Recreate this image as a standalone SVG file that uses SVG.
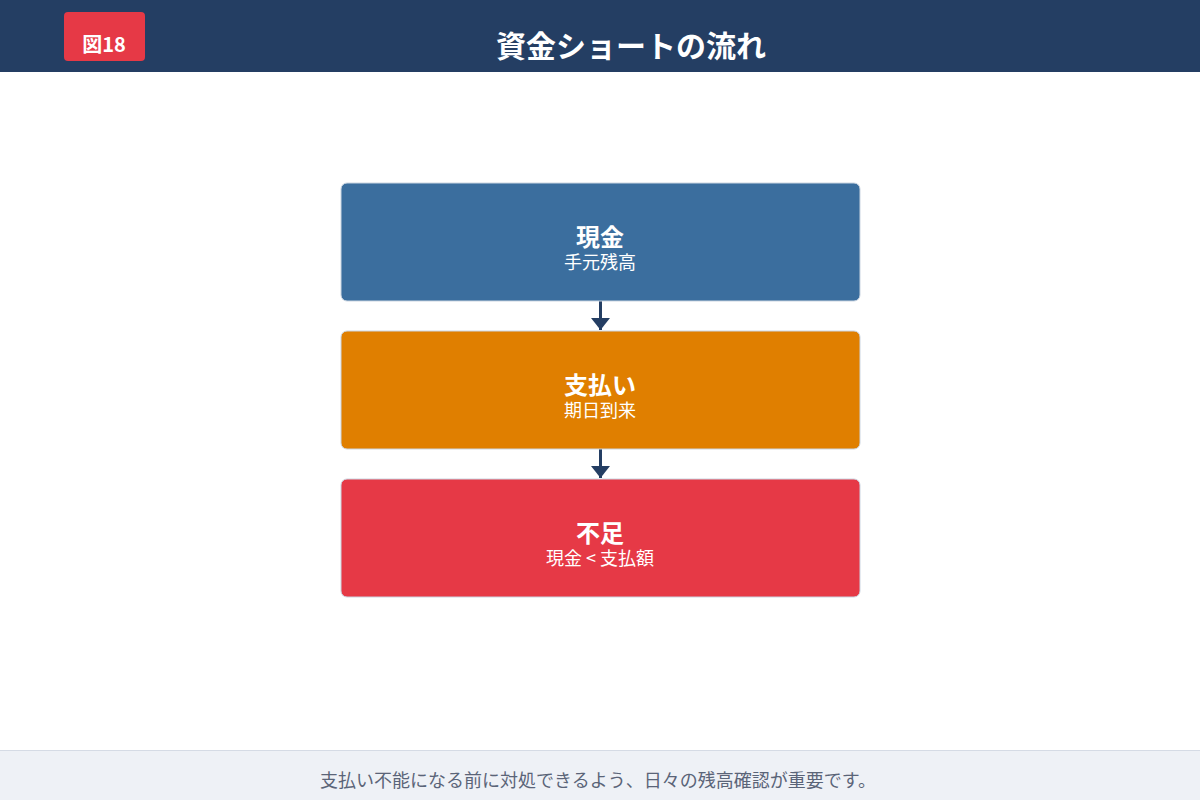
<svg xmlns="http://www.w3.org/2000/svg" width="1200" height="800" viewBox="0 0 1200 800">
<defs>
<style>
.t{font-family:"Noto Sans CJK JP","Noto Sans",sans-serif;fill:#fff;text-anchor:middle}
.nt{font-size:24px;font-weight:700}
.ns{font-size:18px}
.box{stroke:#cbd5e1;stroke-width:1}
.conn{stroke:#243e63;stroke-width:3;fill:none}
</style>
<marker id="ah" viewBox="0 0 12 19" refX="12" refY="9.5" markerWidth="12" markerHeight="19" markerUnits="userSpaceOnUse" orient="auto">
<path d="M0,0 L12,9.5 L0,19 z" fill="#243e63"/>
</marker>
</defs>
<rect x="0" y="0" width="1200" height="800" fill="#ffffff"/>
<g id="header">
<rect x="0" y="0" width="1200" height="72" fill="#243e63"/>
<rect x="64" y="12" width="81" height="49" rx="4" fill="#e63946"/>
<text x="104" y="52" class="t" style="font-size:20px;font-weight:700">図18</text>
<text x="631" y="57" class="t" style="font-size:30px;font-weight:700">資金ショートの流れ</text>
</g>
<g id="connectors">
<line x1="600.5" y1="301" x2="600.5" y2="330" class="conn" marker-end="url(#ah)"/>
<line x1="600.5" y1="449" x2="600.5" y2="478" class="conn" marker-end="url(#ah)"/>
</g>
<g id="node-cash">
<rect x="341" y="183" width="519" height="118" rx="6" fill="#3b6e9e" class="box"/>
<text x="600" y="246" class="t nt">現金</text>
<text x="600" y="269" class="t ns">手元残高</text>
</g>
<g id="node-payment">
<rect x="341" y="331" width="519" height="118" rx="6" fill="#e07f00" class="box"/>
<text x="600" y="394" class="t nt">支払い</text>
<text x="600" y="417" class="t ns">期日到来</text>
</g>
<g id="node-shortage">
<rect x="341" y="479" width="519" height="118" rx="6" fill="#e63946" class="box"/>
<text x="600" y="542" class="t nt">不足</text>
<text x="600" y="565" class="t ns">現金 &lt; 支払額</text>
</g>
<g id="footer">
<rect x="0" y="750" width="1200" height="50" fill="#eef1f6"/>
<line x1="0" y1="750.5" x2="1200" y2="750.5" stroke="#d5dbe5" stroke-width="1"/>
<text x="598" y="787" class="t" style="font-size:18px;fill:#5a6478">支払い不能になる前に対処できるよう、日々の残高確認が重要です。</text>
</g>
</svg>
